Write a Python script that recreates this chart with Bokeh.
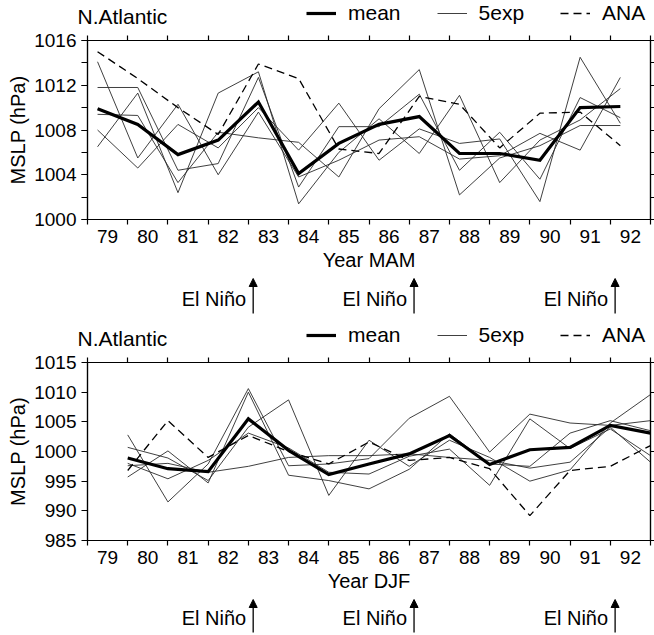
from bokeh.plotting import figure
from bokeh.layouts import column, row
from bokeh.models import (FixedTicker, LinearAxis, Range1d, Legend, LegendItem,
                          Arrow, NormalHead, CustomJSTickFormatter)
from bokeh.core.properties import value
from bokeh.embed import file_html
from bokeh.resources import INLINE

FONT = "Liberation Sans"

years = [79, 80, 81, 82, 83, 84, 85, 86, 87, 88, 89, 90, 91, 92]

# ---- MAM (top panel) ----
mam_mean = [1009.9, 1008.5, 1005.8, 1007.1, 1010.5, 1004.1, 1006.8, 1008.5, 1009.2, 1005.9, 1005.9, 1005.3, 1010.0, 1010.1]
mam_ana = [1015.0, 1012.6, 1010.0, 1007.6, 1013.9, 1012.6, 1006.3, 1005.9, 1011.0, 1010.3, 1006.4, 1009.5, 1009.6, 1006.6]
mam_exp1 = [1014.1, 1005.5, 1010.3, 1004.0, 1009.6, 1003.8, 1005.3, 1007.1, 1007.4, 1005.4, 1005.7, 1007.7, 1006.2, 1012.7]
mam_exp2 = [1006.5, 1011.3, 1002.4, 1011.3, 1013.2, 1001.4, 1006.0, 1009.0, 1005.9, 1011.1, 1003.3, 1007.1, 1008.9, 1011.7]
mam_exp3 = [1008.0, 1004.6, 1008.5, 1006.4, 1010.0, 1006.2, 1010.4, 1005.3, 1008.1, 1006.8, 1007.2, 1001.6, 1014.5, 1008.6]
mam_exp4 = [1009.4, 1009.3, 1003.3, 1007.8, 1007.3, 1006.9, 1003.8, 1009.9, 1013.4, 1002.2, 1005.5, 1006.6, 1008.4, 1008.4]
mam_exp5 = [1011.8, 1011.8, 1004.4, 1005.0, 1012.7, 1002.9, 1008.3, 1008.3, 1011.2, 1004.4, 1007.8, 1003.6, 1010.9, 1009.1]

# ---- DJF (bottom panel) ----
djf_mean = [998.9, 997.1, 996.6, 1005.5, 1000.2, 996.1, 997.9, 999.6, 1002.7, 997.8, 1000.3, 1000.7, 1004.4, 1003.1]
djf_ana = [996.8, 1005.2, 999.0, 1002.7, 1000.0, 997.9, 1001.6, 998.5, 999.0, 997.1, 989.2, 996.8, 997.5, 1001.0]
djf_exp1 = [1002.8, 991.5, 997.9, 1010.6, 997.6, 997.9, 998.8, 1005.6, 1009.3, 999.9, 1006.3, 1004.8, 1004.4, 1005.2]
djf_exp2 = [995.7, 1000.1, 994.7, 1010.0, 996.0, 995.1, 993.7, 997.0, 1003.0, 997.9, 997.5, 1003.1, 1005.2, 1003.5]
djf_exp3 = [1000.7, 998.9, 995.1, 1004.1, 1008.7, 992.6, 1001.9, 997.5, 1001.9, 999.0, 995.0, 996.9, 1004.8, 1009.6]
djf_exp4 = [998.0, 995.4, 998.5, 1003.1, 1000.6, 996.5, 996.2, 999.2, 1000.4, 994.3, 1005.5, 1000.5, 1003.8, 999.3]
djf_exp5 = [997.6, 998.0, 996.5, 997.5, 999.0, 999.3, 999.3, 999.6, 999.0, 998.5, 997.2, 998.2, 1004.1, 998.2]

el_nino_years = [83, 87, 92]

W = 654
LEFT = 87
RIGHT = 4
EXP_STYLE = dict(line_color="#2a2a2a", line_width=0.9)
ANA_STYLE = dict(line_color="black", line_width=1.3, line_dash="8 5")
MEAN_STYLE = dict(line_color="black", line_width=3.2)


def header(height, text_mid, mean, ana, exp):
    h = figure(width=W, height=height, output_backend="svg", toolbar_location=None,
               x_axis_location=None, y_axis_location=None,
               min_border_left=0, min_border_right=0, min_border_top=0,
               min_border_bottom=0, x_range=Range1d(0, W),
               y_range=Range1d(height, 0))
    h.xgrid.grid_line_color = None
    h.ygrid.grid_line_color = None
    h.outline_line_color = None
    h.text(x=[LEFT - 10], y=[text_mid], text=["N.Atlantic"],
           text_font=value(FONT), text_font_size="21px", text_color="black",
           text_baseline="middle", text_align="left")
    # hidden renderers carrying the panel's own series, used for the legend keys
    r_mean = h.line(x=years, y=mean, visible=False, **MEAN_STYLE)
    r_exp = h.line(x=years, y=exp, visible=False, **EXP_STYLE)
    r_ana = h.line(x=years, y=ana, visible=False, **ANA_STYLE)
    legend = Legend(items=[LegendItem(label="mean", renderers=[r_mean]),
                           LegendItem(label="5exp", renderers=[r_exp]),
                           LegendItem(label="ANA", renderers=[r_ana])],
                    orientation="horizontal",
                    location=(LEFT + 219, height - text_mid - 9),
                    background_fill_alpha=0, border_line_alpha=0,
                    padding=0, margin=0, glyph_width=30, glyph_height=18,
                    label_height=18, label_standoff=12, spacing=36,
                    label_text_font=FONT, label_text_font_size="21px",
                    label_text_color="black", label_text_baseline="middle")
    h.add_layout(legend)
    return h


def panel(height, mb_top, frame_h, x_shift, y_lo, y_hi, y_major, y_minor,
          season, mean, ana, exps):
    mb_bottom = height - mb_top - frame_h
    p = figure(width=W, height=height, output_backend="svg", toolbar_location=None,
               min_border_left=LEFT, min_border_right=RIGHT,
               min_border_top=mb_top, min_border_bottom=mb_bottom,
               x_range=Range1d(78.5, 92.5), y_range=Range1d(y_lo, y_hi))
    p.background_fill_color = "white"
    p.border_fill_color = "white"
    p.outline_line_color = "black"
    p.outline_line_width = 1.2
    p.xgrid.grid_line_color = None
    p.ygrid.grid_line_color = None

    minor_x = [y - 0.5 for y in years] + [years[-1] + 0.5]
    ax = p.xaxis[0]
    ax.ticker = FixedTicker(ticks=years, minor_ticks=minor_x)
    ax.axis_label = "Year " + season
    ax.major_tick_out = 0
    ax.major_tick_in = 0
    ax.minor_tick_out = 5
    ax.minor_tick_in = 0
    ax.major_label_standoff = 5
    ax.axis_label_standoff = 3

    ay = p.yaxis[0]
    ay.ticker = FixedTicker(ticks=y_major, minor_ticks=y_minor)
    ay.axis_label = "MSLP (hPa)"
    ay.major_tick_out = 6
    ay.major_tick_in = 0
    ay.minor_tick_out = 6
    ay.minor_tick_in = 0
    ay.major_label_standoff = 5
    ay.axis_label_standoff = 2

    for a in (ax, ay):
        a.axis_line_color = "black"
        a.axis_line_width = 1.2
        a.major_tick_line_color = "black"
        a.minor_tick_line_color = "black"
        a.major_tick_line_width = 1.2
        a.minor_tick_line_width = 1.2
        a.major_label_text_font = FONT
        a.major_label_text_font_size = "19px"
        a.major_label_text_color = "black"
        a.axis_label_text_font = FONT
        a.axis_label_text_font_size = "20px"
        a.axis_label_text_font_style = "normal"
        a.axis_label_text_color = "black"

    blank = CustomJSTickFormatter(code="return ''")
    top_ax = LinearAxis(ticker=FixedTicker(ticks=years, minor_ticks=minor_x),
                        formatter=blank, major_label_standoff=0,
                        major_label_text_font_size="0px",
                        major_tick_out=0, major_tick_in=0,
                        minor_tick_out=5, minor_tick_in=0,
                        minor_tick_line_width=1.2, axis_line_width=1.2)
    right_ax = LinearAxis(ticker=FixedTicker(ticks=y_major, minor_ticks=y_minor),
                          formatter=blank, major_label_standoff=0,
                          major_label_text_font_size="0px",
                          major_tick_out=4, major_tick_in=0,
                          minor_tick_out=4, minor_tick_in=0,
                          major_tick_line_width=1.2, minor_tick_line_width=1.2,
                          axis_line_width=1.2)
    p.add_layout(top_ax, "above")
    p.add_layout(right_ax, "right")

    xs = [y + x_shift for y in years]
    for e in exps:
        p.line(xs, e, **EXP_STYLE)
    p.line(xs, ana, **ANA_STYLE)
    p.line(xs, mean, line_join="miter", **MEAN_STYLE)
    return p


def footer(height, xr, text_mid, tip, base):
    f = figure(width=W, height=height, output_backend="svg", toolbar_location=None,
               x_axis_location=None, y_axis_location=None,
               min_border_left=LEFT, min_border_right=RIGHT,
               min_border_top=0, min_border_bottom=0,
               x_range=xr, y_range=Range1d(height, 0))
    f.xgrid.grid_line_color = None
    f.ygrid.grid_line_color = None
    f.outline_line_color = None
    xa = [yr - 0.38 for yr in el_nino_years]
    f.text(x=xa, y=[text_mid] * len(xa), text=["El Niño"] * len(xa), x_offset=-7,
           text_font=value(FONT), text_font_size="20px", text_color="black",
           text_align="right", text_baseline="middle")
    for x in xa:
        f.add_layout(Arrow(x_start=x, y_start=base, x_end=x, y_end=tip,
                           line_color="black", line_width=1.3,
                           end=NormalHead(size=8, fill_color="black",
                                          line_color="black")))
    return f


h1 = header(28, 16, mam_mean, mam_ana, mam_exp1)
p1 = panel(249, 12, 179, -0.25, 1000, 1016,
           [1000, 1004, 1008, 1012, 1016], list(range(1000, 1017, 2)), "MAM",
           mam_mean, mam_ana, [mam_exp1, mam_exp2, mam_exp3, mam_exp4, mam_exp5])
f1 = footer(43, p1.x_range, 21, 1, 36)

h2 = header(30, 18, djf_mean, djf_ana, djf_exp1)
p2 = panel(248, 12, 178, 0.5, 985, 1015,
           [985, 990, 995, 1000, 1005, 1010, 1015], [], "DJF",
           djf_mean, djf_ana, [djf_exp1, djf_exp2, djf_exp3, djf_exp4, djf_exp5])
f2 = footer(37, p2.x_range, 19, 1, 34)

layout = column(row(h1), p1, f1, row(h2), p2, f2, spacing=0)
open("out.html", "w").write(file_html(layout, INLINE))
